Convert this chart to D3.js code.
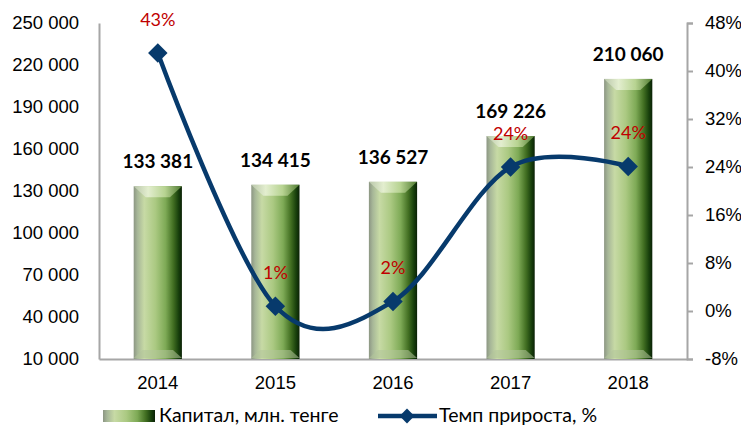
<!DOCTYPE html>
<html>
<head>
<meta charset="utf-8">
<script src="https://cdn.jsdelivr.net/npm/d3@7"></script>
<style>
  body { margin: 0; background: #fff; }
  svg { font-family: Lato, "Open Sans", sans-serif; }
</style>
</head>
<body>
<div id="chart"></div>
<script>
const years = ["2014", "2015", "2016", "2017", "2018"];
const capital = [133381, 134415, 136527, 169226, 210060];
const growth = [0.43, 0.008, 0.016, 0.24, 0.241];
const leftTicks = [10000, 40000, 70000, 100000, 130000, 160000, 190000, 220000, 250000];
const rightTicks = [-0.08, 0, 0.08, 0.16, 0.24, 0.32, 0.40, 0.48];
const seriesNames = ["Капитал, млн. тенге", "Темп прироста, %"];

const W = 741, H = 426;
const plot = { left: 99, right: 687, top: 23, bottom: 359 };
const lineColor = "#073a6c";
const axisColor = "#a6a6a6";

const svg = d3.select("#chart").append("svg")
    .attr("width", W)
    .attr("height", H);

const defs = svg.append("defs");
const barGrad = defs.append("linearGradient").attr("id", "barGrad")
    .attr("x1", "0").attr("x2", "1").attr("y1", "0").attr("y2", "0");
[["0%", "#8c9683"], ["8%", "#a7b798"], ["22%", "#c7daa5"], ["45%", "#abc982"],
 ["66%", "#7eaa56"], ["82%", "#426f22"], ["93%", "#18400c"], ["100%", "#0a2106"]]
    .forEach(([o, c]) => barGrad.append("stop").attr("offset", o).attr("stop-color", c));

const topGrad = defs.append("linearGradient").attr("id", "topGrad")
    .attr("x1", "0").attr("x2", "1").attr("y1", "0").attr("y2", "0");
[["0%", "#b9c6aa"], ["30%", "#e3eecf"], ["65%", "#b7d391"], ["100%", "#4f7a30"]]
    .forEach(([o, c]) => topGrad.append("stop").attr("offset", o).attr("stop-color", c));

const fmtThousands = d3.formatLocale({ decimal: ",", thousands: " ", grouping: [3], currency: ["", ""] }).format(",d");

const x = d3.scaleBand()
    .domain(years)
    .range([plot.left, plot.right])
    .paddingInner(0.59)
    .paddingOuter(0.295);

const y = d3.scaleLinear()
    .domain([10000, 250000])
    .range([plot.bottom, plot.top]);

const y2 = d3.scaleLinear()
    .domain([-0.08, 0.48])
    .range([plot.bottom, plot.top]);

// left axis
const gl = svg.append("g")
    .attr("transform", `translate(${plot.left},0)`)
    .call(d3.axisLeft(y).tickValues(leftTicks).tickSize(0).tickPadding(20).tickFormat(fmtThousands));
gl.select(".domain").attr("stroke", axisColor).attr("stroke-width", 2);
gl.selectAll("text").style("font-size", "18.5px").attr("fill", "#000");

// right axis
const gr = svg.append("g")
    .attr("transform", `translate(${plot.right},0)`)
    .call(d3.axisRight(y2).tickValues(rightTicks).tickSize(6).tickPadding(12)
        .tickFormat(d => Math.round(d * 100) + "%"));
gr.select(".domain").attr("stroke", axisColor).attr("stroke-width", 2);
gr.selectAll(".tick line").attr("stroke", axisColor).attr("stroke-width", 2);
gr.selectAll("text").style("font-size", "18.5px").attr("fill", "#000");

// bottom axis
const gb = svg.append("g")
    .attr("transform", `translate(0,${plot.bottom})`)
    .call(d3.axisBottom(x).tickSize(0).tickPadding(17).tickSizeOuter(0));
gb.select(".domain").attr("stroke", axisColor).attr("stroke-width", 2);
gb.selectAll("text").style("font-size", "18.5px").attr("fill", "#000");

// bars
const bw = x.bandwidth();
const bars = svg.append("g").selectAll("g.bar")
    .data(years.map((yr, i) => ({ yr, v: capital[i] })))
    .enter().append("g").attr("class", "bar");

bars.append("rect")
    .attr("x", d => x(d.yr))
    .attr("y", d => y(d.v))
    .attr("width", bw)
    .attr("height", d => plot.bottom - y(d.v))
    .attr("fill", "url(#barGrad)");

bars.append("path")
    .attr("d", d => {
        const x0 = x(d.yr), t = y(d.v);
        return `M${x0},${t}L${x0 + bw},${t}L${x0 + bw - 12},${t + 11}L${x0 + 12},${t + 11}Z`;
    })
    .attr("fill", "url(#topGrad)");

bars.append("path")
    .attr("d", d => {
        const x0 = x(d.yr), b = plot.bottom - 1;
        return `M${x0},${b}L${x0 + bw},${b}L${x0 + bw - 9},${b - 8}L${x0 + 9},${b - 8}Z`;
    })
    .attr("fill", "#b3c59a")
    .attr("opacity", 0.55);

// value labels
svg.append("g").selectAll("text")
    .data(years.map((yr, i) => ({ yr, v: capital[i] })))
    .enter().append("text")
    .attr("x", d => x(d.yr) + bw / 2)
    .attr("y", d => y(d.v) - 18)
    .attr("text-anchor", "middle")
    .style("font-size", "19px")
    .style("font-weight", "bold")
    .text(d => fmtThousands(d.v));

// growth line
const pts = years.map((yr, i) => ({ yr, g: growth[i] }));
const line = d3.line()
    .x(d => x(d.yr) + bw / 2)
    .y(d => y2(d.g))
    .curve(d3.curveCardinal.tension(0));

svg.append("path")
    .datum(pts)
    .attr("d", line)
    .attr("fill", "none")
    .attr("stroke", lineColor)
    .attr("stroke-width", 4.5);

const diamond = d3.symbol().type(d3.symbolSquare).size(190);
svg.append("g").selectAll("path")
    .data(pts)
    .enter().append("path")
    .attr("d", diamond)
    .attr("transform", d => `translate(${x(d.yr) + bw / 2},${y2(d.g)}) rotate(45)`)
    .attr("fill", lineColor);

svg.append("g").selectAll("text")
    .data(pts)
    .enter().append("text")
    .attr("x", d => x(d.yr) + bw / 2)
    .attr("y", d => y2(d.g) - 27)
    .attr("text-anchor", "middle")
    .style("font-size", "18px")
    .attr("fill", "#c00000")
    .text(d => Math.round(d.g * 100) + "%");

// legend
const lg = svg.append("g");
lg.append("rect").attr("x", 103).attr("y", 410).attr("width", 52).attr("height", 12).attr("fill", "url(#barGrad)");
lg.append("text").attr("x", 159).attr("y", 422).style("font-size", "19.5px").text(seriesNames[0]);
lg.append("line").attr("x1", 378).attr("x2", 437).attr("y1", 416).attr("y2", 416)
    .attr("stroke", lineColor).attr("stroke-width", 4.5);
lg.append("path").attr("d", d3.symbol().type(d3.symbolSquare).size(110))
    .attr("transform", "translate(407,416) rotate(45)").attr("fill", lineColor);
lg.append("text").attr("x", 439).attr("y", 422).style("font-size", "19.5px").text(seriesNames[1]);
</script>
</body>
</html>
